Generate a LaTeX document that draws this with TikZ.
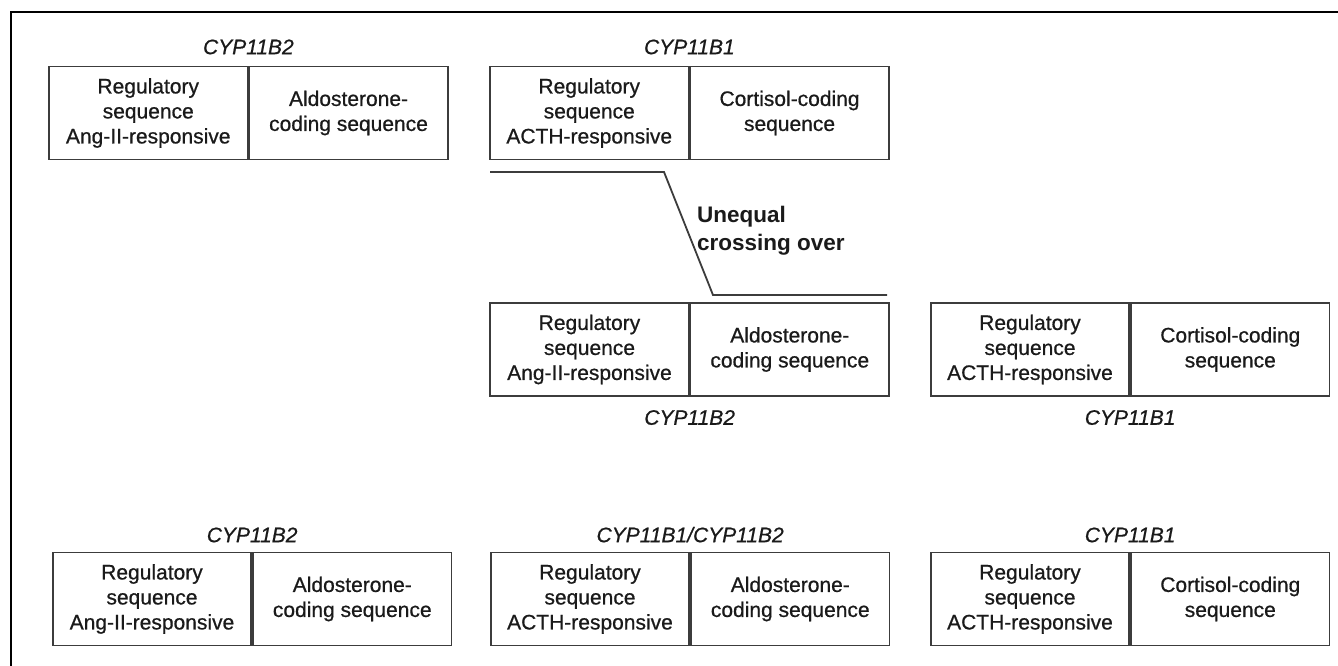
\documentclass[tikz,border=0pt]{standalone}
\usepackage{fontspec}
\setmainfont{Liberation Sans}
\newfontfamily\seqfont[FakeBold=0.7]{Liberation Sans}
\usepackage{tikz}
\usetikzlibrary{positioning}
\usepackage{xcolor}
\definecolor{boxline}{HTML}{3C3C3C}
\definecolor{inktext}{HTML}{1A1A1A}

\begin{document}
\begin{tikzpicture}[
    x=1pt, y=-1pt,
    every node/.style={text=inktext},
    seqbox/.style={draw=boxline, line width=1.8pt, minimum width=198.5pt,
        minimum height=93pt, inner sep=0pt, align=center,
        font=\seqfont\fontsize{21}{25}\selectfont},
    genename/.style={inner sep=0pt, font=\seqfont\fontsize{21}{25}\selectfont\itshape},
    crossline/.style={draw=boxline, line width=1.8pt}
]
    \useasboundingbox (0,0) rectangle (1338,666);
    % Outer frame (only top and left edges are in view)
    \draw[line width=2.2pt] (11,666) -- (11,12) -- (1338,12);

    % First row: the two genes before crossing over
    \node[seqbox] (r1b2reg) at (148.25,113) {Regulatory\\sequence\\Ang-II-responsive};
    \node[seqbox, right=0pt of r1b2reg] (r1b2cod) {Aldosterone-\\coding sequence};
    \node[genename, above=11pt of r1b2reg.north east] (r1b2name) {CYP11B2};

    \node[seqbox] (r1b1reg) at (589.25,113) {Regulatory\\sequence\\ACTH-responsive};
    \node[seqbox, right=0pt of r1b1reg] (r1b1cod) {Cortisol-coding\\sequence};
    \node[genename, above=11pt of r1b1reg.north east] (r1b1name) {CYP11B1};

    % Crossing over line
    \coordinate (xa) at (490,172);
    \coordinate (xb) at (664,172);
    \coordinate (xc) at (713,295);
    \coordinate (xd) at (887,295);
    \path[crossline] (xa) -- (xb) -- (xc) -- (xd);
    \node[anchor=west, align=left, inner sep=0pt,
        font=\fontsize{22.5}{28}\selectfont\bfseries] (unequal) at (697,231)
        {Unequal\\crossing over};

    % Second row: the two genes after crossing over
    \node[seqbox] (r2b2reg) at (589.5,349.5) {Regulatory\\sequence\\Ang-II-responsive};
    \node[seqbox, right=0pt of r2b2reg] (r2b2cod) {Aldosterone-\\coding sequence};
    \node[genename, below=13pt of r2b2reg.south east] (r2b2name) {CYP11B2};

    \node[seqbox] (r2b1reg) at (1030,349.5) {Regulatory\\sequence\\ACTH-responsive};
    \node[seqbox, right=0pt of r2b1reg] (r2b1cod) {Cortisol-coding\\sequence};
    \node[genename, below=13pt of r2b1reg.south east] (r2b1name) {CYP11B1};

    % Third row: the resulting chimeric gene between the two
    \node[seqbox] (r3b2reg) at (152,599) {Regulatory\\sequence\\Ang-II-responsive};
    \node[seqbox, right=0pt of r3b2reg] (r3b2cod) {Aldosterone-\\coding sequence};
    \node[genename, above=9pt of r3b2reg.north east] (r3b2name) {CYP11B2};

    \node[seqbox] (r3mixreg) at (590,599) {Regulatory\\sequence\\ACTH-responsive};
    \node[seqbox, right=0pt of r3mixreg] (r3mixcod) {Aldosterone-\\coding sequence};
    \node[genename, above=9pt of r3mixreg.north east] (r3mixname) {CYP11B1/CYP11B2};

    \node[seqbox] (r3b1reg) at (1030,599) {Regulatory\\sequence\\ACTH-responsive};
    \node[seqbox, right=0pt of r3b1reg] (r3b1cod) {Cortisol-coding\\sequence};
    \node[genename, above=9pt of r3b1reg.north east] (r3b1name) {CYP11B1};
\end{tikzpicture}
\end{document}
